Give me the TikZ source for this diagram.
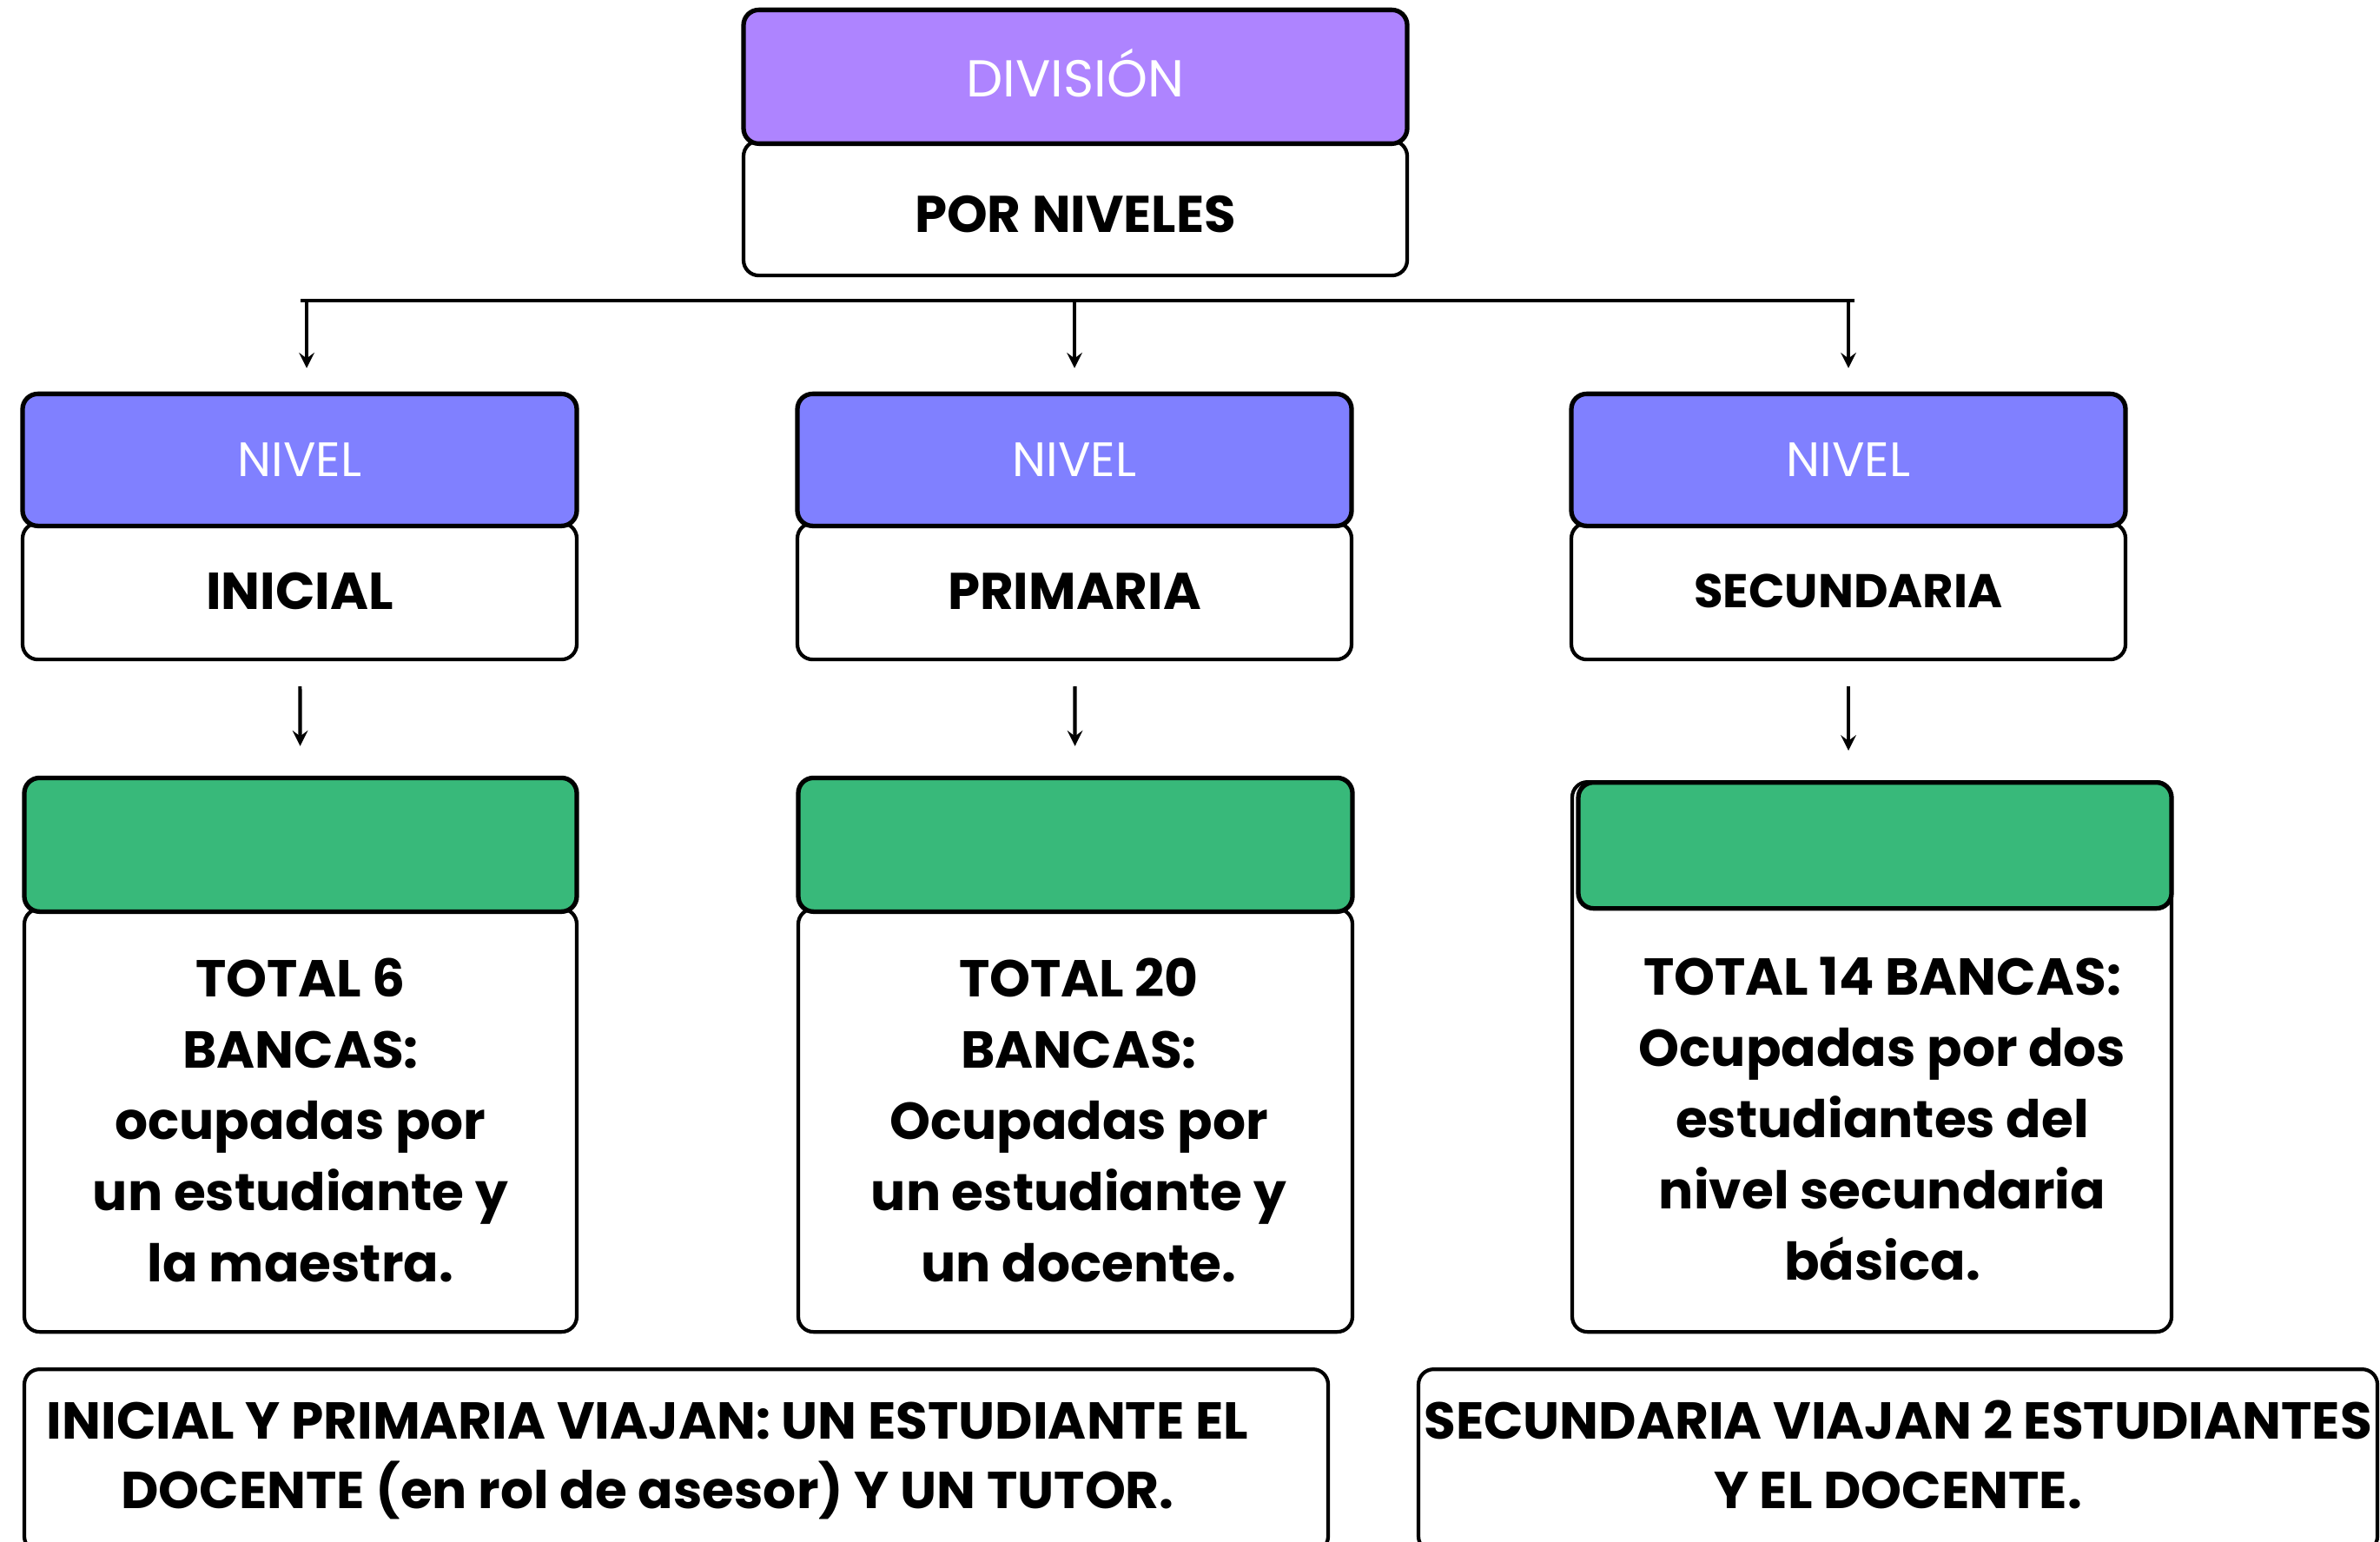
\documentclass[tikz,border=0pt]{standalone}
\usepackage{fontspec}
\setmainfont{Poppins}
\usepackage{tikz}
\usetikzlibrary{arrows,positioning}
\definecolor{violeta}{HTML}{AE84FF}
\definecolor{azul}{HTML}{8080FF}
\definecolor{verde}{HTML}{38B97A}

\begin{document}
\begin{tikzpicture}[
font=\bfseries,
head/.style={draw=black, line width=1.5pt, rounded corners=5pt, text=white, font=\fontsize{15.8}{18}\selectfont, minimum height=1.52cm},
card/.style={draw=black, line width=1.2pt, fill=white, rounded corners=5pt, align=center, anchor=north, inner sep=0pt},
flecha/.style={->, >=stealth, line width=1.2pt},
rama/.style={line width=1.4pt}
]
\useasboundingbox (0,0) rectangle (27.4,-17.74);

% Division
\node[card, minimum width=7.64cm, minimum height=1.55cm, text height=0.56cm, text depth=0cm, font=\bfseries\fontsize{16.9}{20}\selectfont] (divbody) at (12.38,-1.60) {POR NIVELES};
\node[head, fill=violeta, minimum width=7.64cm, minimum height=1.54cm, text depth=0.1cm, font=\fontsize{17}{20}\selectfont, above=-0.08cm of divbody] (divhead) {DIVISIÓN};

% Ramas
\draw[rama] (3.46,-3.46) coordinate (ramaI) -- (21.35,-3.46) coordinate (ramaD);

% Niveles
\node[card, minimum width=6.38cm, minimum height=1.57cm, font=\bfseries\fontsize{17}{20}\selectfont] (inibody) at (3.45,-6.00) {INICIAL};
\node[head, fill=azul, minimum width=6.38cm, above=-0.08cm of inibody] (inihead) {NIVEL};
\node[card, minimum width=6.38cm, minimum height=1.57cm, font=\bfseries\fontsize{16.9}{20}\selectfont] (pribody) at (12.37,-6.00) {PRIMARIA};
\node[head, fill=azul, minimum width=6.38cm, above=-0.08cm of pribody] (prihead) {NIVEL};
\node[card, minimum width=6.38cm, minimum height=1.57cm, font=\bfseries\fontsize{15.5}{20}\selectfont] (secbody) at (21.28,-6.00) {SECUNDARIA};
\node[head, fill=azul, minimum width=6.38cm, above=-0.08cm of secbody] (sechead) {NIVEL};

\draw[flecha, shorten >=0.27cm] ([xshift=0.08cm]inihead.north |- ramaI) -- ([xshift=0.08cm]inihead.north);
\draw[flecha, shorten >=0.27cm] (prihead.north |- ramaI) -- (prihead.north);
\draw[flecha, shorten >=0.27cm] (sechead.north |- ramaD) -- (sechead.north);

% Bancas
\node[card, minimum width=6.36cm, minimum height=4.87cm, font=\bfseries\fontsize{17}{23.3}\selectfont] (inibancas) at (3.46,-10.44)
  {TOTAL 6\\BANCAS:\\ocupadas por\\un estudiante y\\la maestra.};
\node[head, fill=verde, minimum width=6.36cm, minimum height=1.54cm, above=-0.08cm of inibancas] (iniverde) {};
\node[card, minimum width=6.38cm, minimum height=4.87cm, font=\bfseries\fontsize{17}{23.3}\selectfont] (pribancas) at (12.38,-10.44)
  {\hspace*{0.08cm}TOTAL 20\\\hspace*{0.08cm}BANCAS:\\\hspace*{0.08cm}Ocupadas por\\\hspace*{0.08cm}un estudiante y\\\hspace*{0.08cm}un docente.};
\node[head, fill=verde, minimum width=6.38cm, minimum height=1.54cm, above=-0.08cm of pribancas] (priverde) {};
\node[card, minimum width=6.90cm, minimum height=6.33cm] (secbancas) at (21.55,-8.98) {};
\node[head, fill=verde, minimum width=6.83cm, minimum height=1.45cm, anchor=north, xshift=0.035cm] (secverde) at (secbancas.north) {};
\node[align=center, font=\bfseries\fontsize{17}{23.3}\selectfont] (sectexto) at (21.67,-12.88)
  {TOTAL 14 BANCAS:\\Ocupadas por dos\\estudiantes del\\nivel secundaria\\básica.};

\draw[flecha, shorten <=0.29cm, shorten >=0.34cm] (inibody) -- (iniverde);
\draw[flecha, shorten <=0.29cm, shorten >=0.34cm] (pribody) -- (priverde);
\draw[flecha, shorten <=0.29cm, shorten >=0.34cm] (secbody.south) -- (secbody.south |- secverde.north);

% Viajes
\node[card, minimum width=15.01cm, minimum height=2.1cm, font=\bfseries\fontsize{17}{22.8}\selectfont] (viajeIP) at (7.785,-15.74)
  {INICIAL Y PRIMARIA VIAJAN: UN ESTUDIANTE EL\hspace*{0.66cm}\\DOCENTE (en rol de asesor) Y UN TUTOR.\hspace*{0.66cm}};
\node[card, minimum width=11.04cm, minimum height=2.1cm, text depth=0.14cm, font=\bfseries\fontsize{17}{22.8}\selectfont] (viajeS) at (21.85,-15.74)
  {SECUNDARIA VIAJAN 2 ESTUDIANTES\\Y EL DOCENTE.};
\end{tikzpicture}
\end{document}
